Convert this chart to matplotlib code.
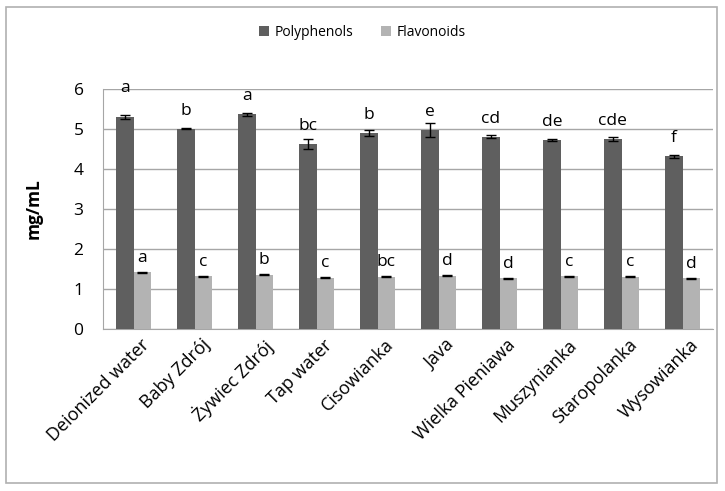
import numpy as np
import matplotlib.pyplot as plt
import matplotlib.transforms as mtransforms
from matplotlib.patches import Rectangle

plt.rcParams['font.family'] = ['Open Sans', 'DejaVu Sans']

categories = ['Deionized water', 'Baby Zdrój', 'Żywiec Zdrój', 'Tap water', 'Cisowianka',
              'Java', 'Wielka Pieniawa', 'Muszynianka', 'Staropolanka', 'Wysowianka']
polyphenols = [5.30, 5.01, 5.37, 4.62, 4.90, 4.97, 4.81, 4.73, 4.75, 4.32]
polyphenols_err = [0.04, 0.01, 0.04, 0.13, 0.07, 0.17, 0.03, 0.03, 0.05, 0.04]
flavonoids = [1.42, 1.32, 1.36, 1.28, 1.31, 1.33, 1.27, 1.32, 1.31, 1.27]
flavonoids_err = [0.01, 0.01, 0.02, 0.01, 0.02, 0.01, 0.01, 0.01, 0.02, 0.01]
poly_letters = ['a', 'b', 'a', 'bc', 'b', 'e', 'cd', 'de', 'cde', 'f']
flav_letters = ['a', 'c', 'b', 'c', 'bc', 'd', 'd', 'c', 'c', 'd']

dark = '#5f5f5f'
light = '#b3b3b3'
grid_c = '#a6a6a6'

fig = plt.figure(figsize=(7.25, 4.91), dpi=100)
fig.patches.append(Rectangle((6 / 725, 8 / 491), 711 / 725, 476 / 491, transform=fig.transFigure,
                             fill=False, edgecolor='#b0b0b0', linewidth=1.2))
ax = fig.add_axes([103 / 725, 1 - 329 / 491, 610 / 725, 240 / 491])

x = np.arange(len(categories))
w = 0.285
ekw = dict(elinewidth=1.0, capsize=3.5, capthick=1.0, ecolor='black')
ax.bar(x - w / 2, polyphenols, w, color=dark, yerr=polyphenols_err, error_kw=ekw,
       label='Polyphenols', zorder=3)
ax.bar(x + w / 2, flavonoids, w, color=light, yerr=flavonoids_err, error_kw=ekw,
       label='Flavonoids', zorder=3)

for i in range(len(categories)):
    yp = polyphenols[i] + 0.45
    if i == 0:
        yp = polyphenols[i] + 0.72
    ax.text(x[i] - w / 2, yp, poly_letters[i], ha='center', va='center', fontsize=12.5)
    ax.text(x[i] + w / 2, flavonoids[i] + 0.36, flav_letters[i], ha='center', va='center', fontsize=12.5)

ax.set_ylim(0, 6)
ax.set_xlim(-0.5, len(categories) - 0.5)
ax.set_yticks(range(7))
ax.yaxis.grid(True, color=grid_c, linewidth=1.0, zorder=0)
ax.set_axisbelow(True)
for s in ['top', 'right']:
    ax.spines[s].set_visible(False)
for s in ['left', 'bottom']:
    ax.spines[s].set_color(grid_c)
ax.tick_params(axis='both', length=0, labelsize=12.5, pad=14)
ax.tick_params(axis='x', pad=5)
ax.set_xticks(x)
ax.set_xticklabels(categories, rotation=45, ha='right', rotation_mode='anchor', fontsize=13)
shift = mtransforms.ScaledTranslation(7 / 100, 0, fig.dpi_scale_trans)
for lbl in ax.get_xticklabels():
    lbl.set_transform(lbl.get_transform() + shift)
ax.set_ylabel('mg/mL', fontsize=12.5, fontweight='bold', labelpad=22)

fig.legend(loc='upper center', bbox_to_anchor=(0.5, 0.975), ncol=2, frameon=False,
           fontsize=10, handlelength=0.7, handleheight=0.7, columnspacing=2.0, handletextpad=0.4)

fig.savefig('out.png', dpi=100)
